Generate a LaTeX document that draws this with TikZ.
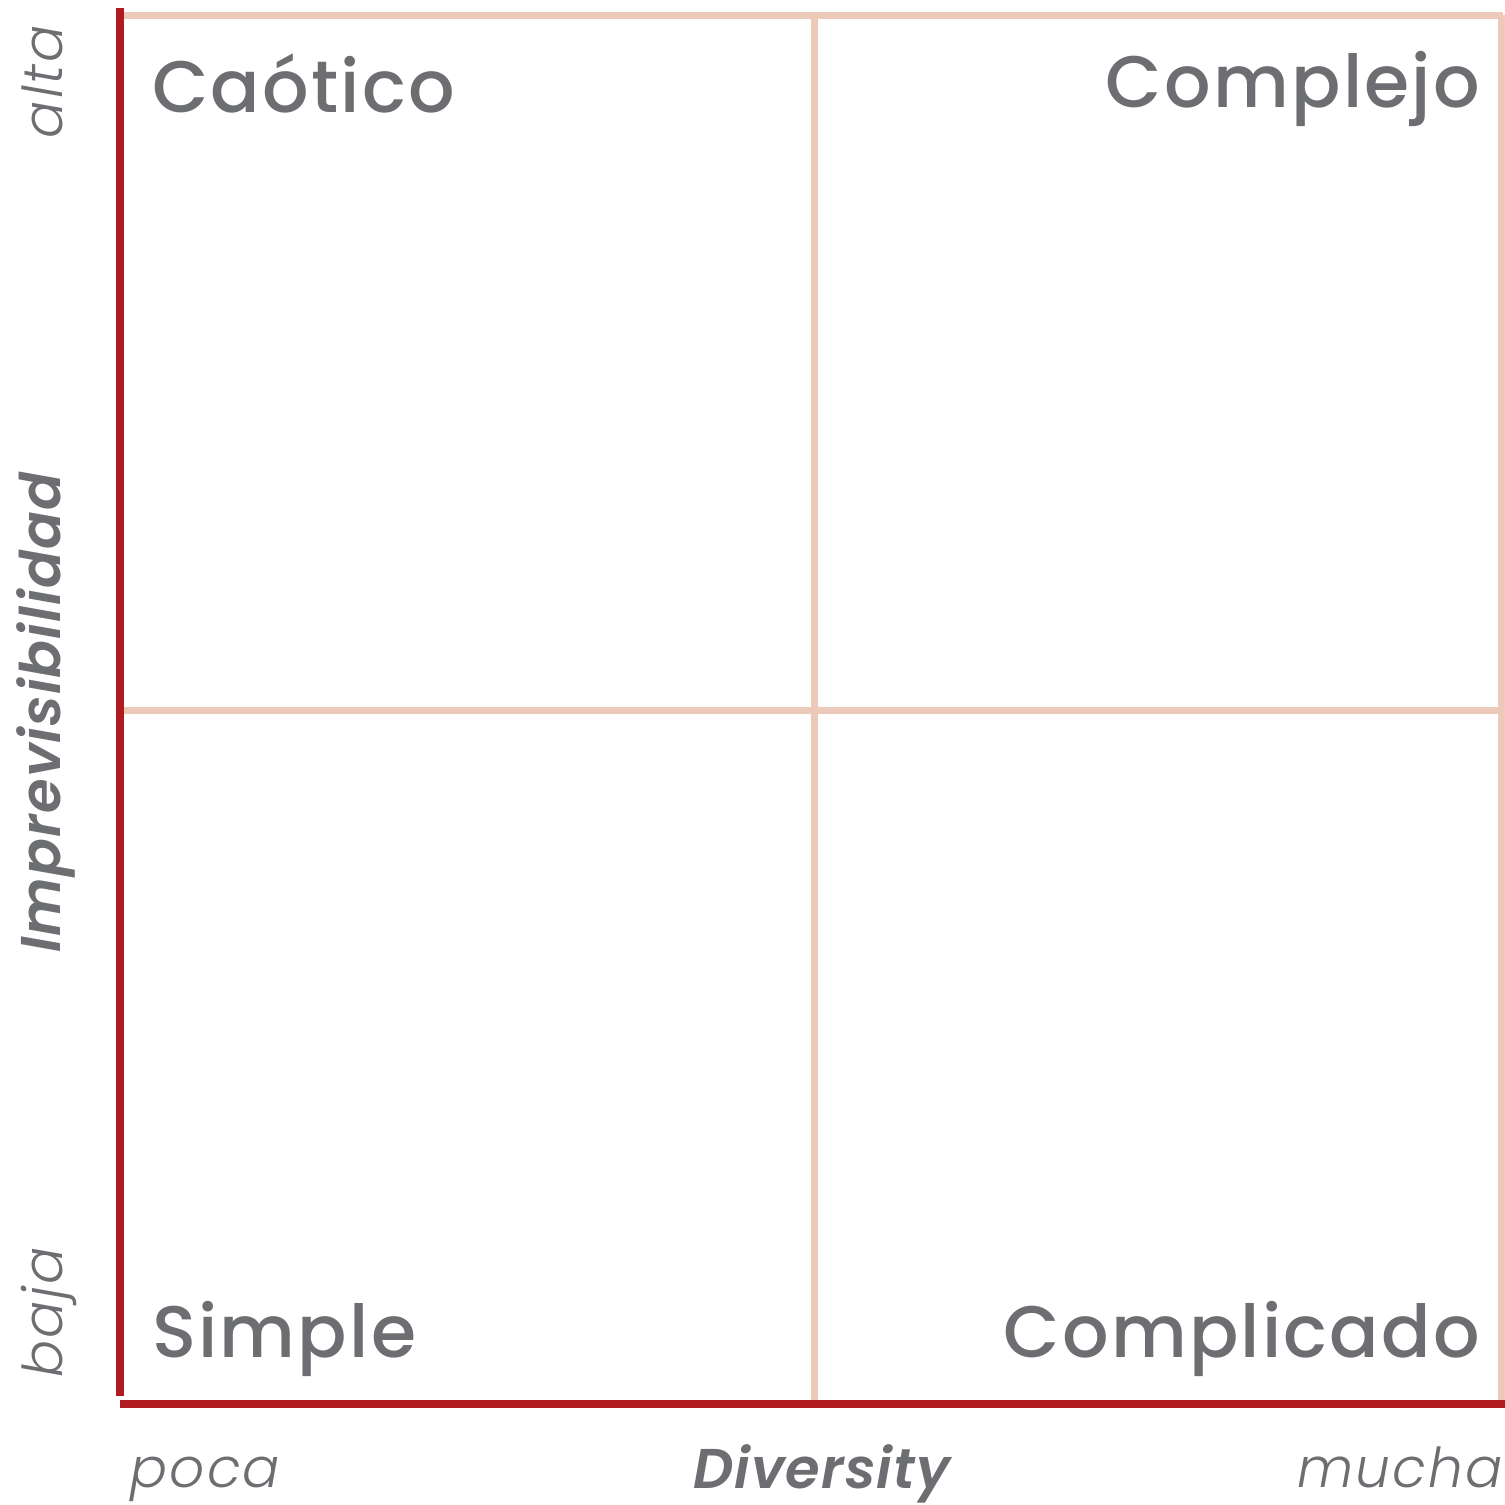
\documentclass[tikz,border=0pt]{standalone}
\usepackage{fontspec}
\setmainfont{Poppins}
\newfontfamily\quadfont{Poppins Medium}[LetterSpace=3]
\newfontfamily\lightfont{Poppins Light}[ItalicFont={Poppins Light Italic},LetterSpace=4]
\newfontfamily\axisfont{Poppins SemiBold}[ItalicFont={Poppins SemiBold Italic},LetterSpace=2]
\definecolor{axisred}{HTML}{B01B22}
\definecolor{gridpink}{HTML}{EDC9BA}
\definecolor{txtgray}{HTML}{6D6E71}
\tikzset{
  gridline/.style={draw=gridpink,line width=7pt},
  axisline/.style={draw=axisred,line width=8pt},
  quadlabel/.style={text=txtgray,inner sep=0pt,font=\quadfont\fontsize{73}{73}\selectfont},
  endlabel/.style={text=txtgray,inner sep=0pt,font=\lightfont\itshape\fontsize{55}{55}\selectfont},
  axislabel/.style={text=txtgray,inner sep=0pt,font=\axisfont\itshape\fontsize{56}{56}\selectfont},
}
\begin{document}
\begin{tikzpicture}[x=1pt,y=-1pt]
\useasboundingbox[fill=white] (0,0) rectangle (1505,1505);
% grid
\coordinate (tl) at (120,15);
\coordinate (tr) at (1503,15);
\coordinate (rt) at (1501,15);
\coordinate (rb) at (1501,1403);
\coordinate (mt) at (814,15);
\coordinate (mb) at (814,1403);
\coordinate (ml) at (120,710);
\coordinate (mr) at (1503,710);
\draw[gridline] (tl) -- (tr);
\draw[gridline] (rt) -- (rb);
\draw[gridline] (mt) -- (mb);
\draw[gridline] (ml) -- (mr);
% axes
\coordinate (yt) at (120,8);
\coordinate (yb) at (120,1396);
\coordinate (xl) at (120,1404);
\coordinate (xr) at (1505,1404);
\draw[axisline] (yt) -- (yb);
\draw[axisline] (xl) -- (xr);
% quadrant labels
\node[quadlabel,anchor=base west] (caotico) at (152,112) {Caótico};
\node[quadlabel,anchor=base east] (complejo) at (1480,107) {Complejo};
\node[quadlabel,anchor=base west] (simple) at (152,1357) {Simple};
\node[quadlabel,anchor=base east] (complicado) at (1480,1357) {Complicado};
% axis end labels
\node[endlabel,anchor=base west] (poca) at (130,1487) {poca};
\node[endlabel,anchor=base east] (mucha) at (1503,1487) {mucha};
\node[endlabel,anchor=base east,rotate=90] (alta) at (62,25) {alta};
\node[endlabel,anchor=base west,rotate=90] (baja) at (62,1378) {baja};
% axis titles
\node[axislabel,anchor=base west] (diversity) at (693,1488) {Diversity};
\node[axislabel,anchor=base west,rotate=90] (imprev) at (60,953) {Imprevisibilidad};
\end{tikzpicture}
\end{document}
